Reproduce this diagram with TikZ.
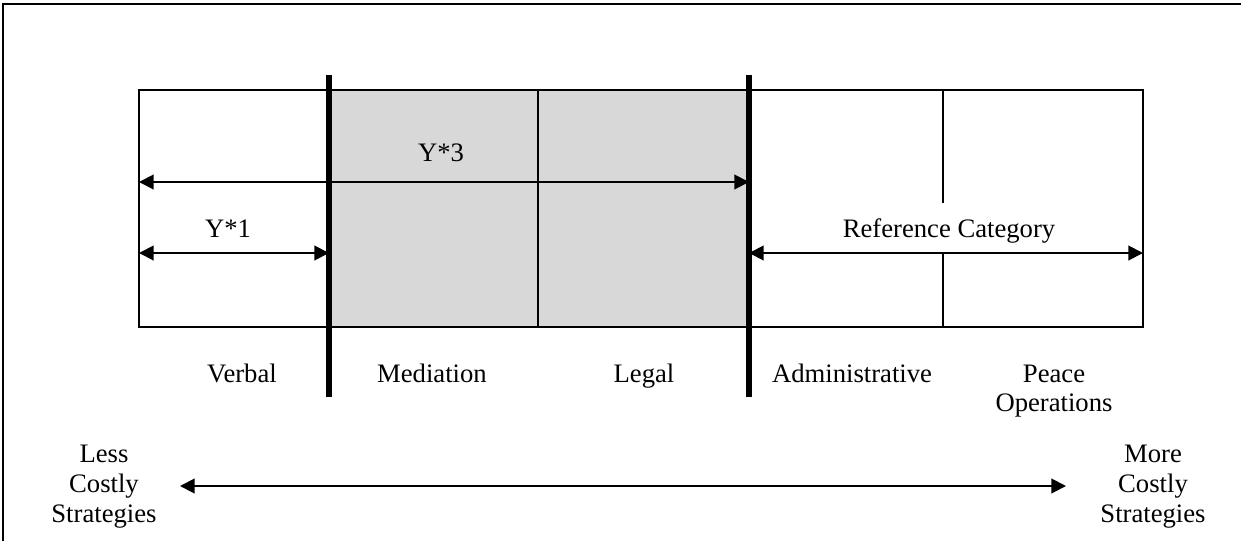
\documentclass[tikz,border=0pt]{standalone}
\usepackage{fontspec}
\setmainfont{Liberation Serif}
\usetikzlibrary{arrows.meta}
\begin{document}
\begin{tikzpicture}[x=0.75pt,y=-0.75pt,
  thinln/.style={line width=1.5pt},
  thickln/.style={line width=4.5pt},
  dimarrow/.style={line width=1.5pt,{Triangle[length=11pt,width=11pt]}-{Triangle[length=11pt,width=11pt]}},
  lbl/.style={font=\fontsize{20}{22.5}\selectfont,inner sep=0pt,anchor=base},
  side/.style={font=\fontsize{20}{22.5}\selectfont,inner sep=0pt,align=center}]
\useasboundingbox (0,0) rectangle (1241,540);
\clip (0,0) rectangle (1241,540);
% outer frame
\draw[line width=1.6pt] (3,4) rectangle (1260,560);
% shaded region
\fill[fill={rgb,255:red,216;green,216;blue,216}] (329,90) rectangle (749,327);
% main box
\draw[thinln] (139,90) rectangle (1143,327);
% dividers
\draw[thinln] (538,90) -- (538,327);
\draw[thinln] (943,90) -- (943,203);
\draw[thinln] (943,253) -- (943,327);
% thick lines
\draw[thickln] (329,75) -- (329,397);
\draw[thickln] (749,75) -- (749,397);
% coordinates for arrows
\coordinate (y3l) at (139,182);
\coordinate (y3r) at (749,182);
\coordinate (y1l) at (139,253);
\coordinate (y1r) at (329,253);
\coordinate (rcl) at (749,253);
\coordinate (rcr) at (1143,253);
\coordinate (costl) at (180,486);
\coordinate (costr) at (1066,486);
\draw[dimarrow] (y3l) -- (y3r);
\draw[dimarrow] (y1l) -- (y1r);
\draw[dimarrow] (rcl) -- (rcr);
\draw[dimarrow] (costl) -- (costr);
% labels
\node[lbl] (ly3) at (441,161) {Y*3};
\node[lbl] (ly1) at (228,237) {Y*1};
\node[lbl] (lrc) at (949,237) {Reference Category};
\node[lbl] (verbal) at (242,382) {Verbal};
\node[lbl] (mediation) at (432,382) {Mediation};
\node[lbl] (legal) at (644,382) {Legal};
\node[lbl] (admin) at (852,382) {Administrative};
\node[lbl] (peace) at (1054,382) {Peace};
\node[lbl] (ops) at (1054,411.5) {Operations};
\node[side] (less) at (104,487) {Less\\Costly\\Strategies};
\node[side] (more) at (1153,487) {More\\Costly\\Strategies};
\end{tikzpicture}
\end{document}
